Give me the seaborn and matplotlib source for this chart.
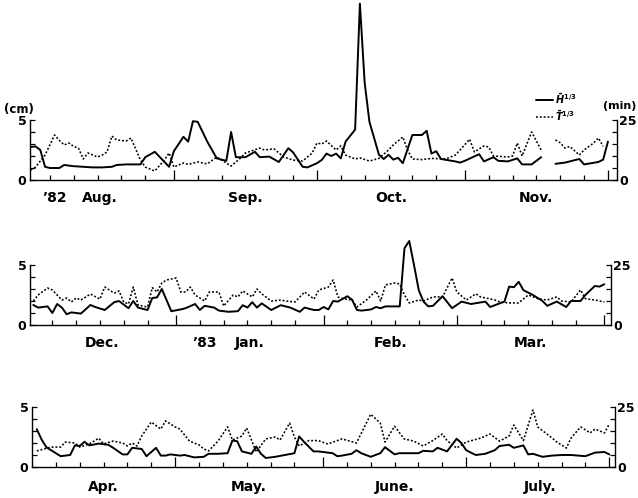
import numpy as np
import pandas as pd
import matplotlib
matplotlib.use("Agg")
import matplotlib.pyplot as plt
from matplotlib.lines import Line2D
import seaborn as sns

nan = np.nan

# ---------------- Aug.-Nov. 1982 (day 0 = 1 Aug) ----------------
h1_day = [1, 2, 3, 4, 5, 7, 8, 10, 12, 14, 16, 18, 19, 21, 24, 25, 27, 30, 31, 33,
          34, 35, 36, 38, 40, 42, 43, 44, 46, 48, 49, 51, 53, 55, 56, 58, 59, 61, 62, 63,
          64, 65, 66, 67, 69, 70, 71, 72, 74, 75, 76, 77, 78, 79, 81, 83, 84, 85, 86, 87,
          90, 91, 92, 95, 96, 98, 99, 101, 103, 104, 106, 108, 109, 111, 113, 116, 117, 120, 121, 122]
h1_cm = [2.75, 2.8, 2.5, 1.1, 1.0, 1.0, 1.25, 1.15, 1.1, 1.05, 1.05, 1.1, 1.25, 1.3, 1.3, 1.9, 2.35, 1.1, 2.4, 3.6,
         3.2, 4.9, 4.85, 3.2, 1.8, 1.6, 4.0, 1.9, 1.9, 2.35, 1.9, 1.95, 1.5, 2.65, 2.3, 1.1, 1.05, 1.4, 1.67, 2.2,
         2.0, 2.2, 1.8, 3.2, 4.2, 14.7, 8.1, 4.85, 2.1, 1.75, 2.1, 1.7, 1.85, 1.4, 3.75, 3.75, 4.1, 2.2, 2.4, 1.75,
         1.55, 1.45, 1.6, 2.15, 1.55, 1.9, 1.6, 1.55, 1.8, 1.3, 1.3, 1.9, nan, 1.35, 1.45, 1.75, 1.3, 1.5, 1.7, 3.2]

t1_day = [1, 2, 4, 6, 7, 8, 9, 10, 11, 12, 13, 15, 16, 17, 18, 19, 21, 22, 24, 25,
          27, 29, 30, 31, 33, 34, 36, 38, 40, 41, 43, 45, 46, 49, 50, 52, 54, 56, 58, 60,
          61, 62, 63, 65, 66, 67, 69, 70, 72, 74, 76, 77, 79, 80, 81, 83, 85, 88, 90, 91,
          93, 94, 96, 97, 98, 101, 102, 103, 104, 106, 108, 109, 111, 112, 113, 114, 116, 117, 119, 120, 121]
t1_min = [4.2, 5.4, 10.4, 18.75, 16.5, 14.6, 15.4, 14.0, 13.3, 8.75, 11.25, 9.6, 10.4, 11.7, 18.3, 16.7, 16.25, 17.5, 8.3, 5.4,
          3.75, 8.3, 11.25, 5.4, 7.1, 6.5, 7.5, 6.7, 9.6, 8.3, 5.8, 9.2, 11.25, 13.3, 12.5, 13.0, 9.6, 8.3, 7.9, 11.25,
          15.4, 15.0, 16.25, 12.5, 14.2, 10.4, 8.75, 9.2, 7.9, 9.0, 12.5, 14.6, 17.9, 12.5, 8.75, 8.5, 9.0, 8.75, 10.4, 12.5,
          17.0, 11.7, 14.2, 13.75, 10.0, 9.6, 10.0, 15.4, 10.0, 20.0, 12.5, nan, 16.7, 15.5, 13.3, 14.0, 10.4, 12.5, 15.4, 17.5, 14.0]

# ---------------- Dec. 1982 - Mar. 1983 (day 0 = 1 Dec) ----------------
h2_day = [1, 2, 4, 5, 6, 7, 8, 9, 11, 13, 14, 16, 18, 19, 21, 22, 23, 25, 26, 27,
          28, 30, 32, 33, 35, 36, 37, 39, 40, 42, 44, 45, 46, 47, 48, 49, 51, 53, 55, 57,
          58, 60, 61, 62, 63, 64, 65, 67, 68, 69, 70, 72, 73, 74, 75, 78, 79, 80, 81, 82,
          83, 84, 85, 87, 89, 91, 93, 96, 97, 100, 101, 102, 103, 104, 106, 108, 109, 111, 113, 114,
          116, 117, 119, 120, 121]
h2_cm = [1.67, 1.45, 1.55, 1.0, 1.75, 1.45, 0.9, 1.05, 0.95, 1.67, 1.5, 1.25, 1.9, 2.0, 1.4, 2.0, 1.45, 1.25, 2.25, 2.3,
         3.0, 1.15, 1.3, 1.4, 1.75, 1.25, 1.6, 1.45, 1.2, 1.1, 1.15, 1.65, 1.45, 1.9, 1.45, 1.8, 1.25, 1.65, 1.45, 1.1,
         1.45, 1.25, 1.25, 1.5, 1.3, 2.0, 1.95, 2.4, 2.1, 1.25, 1.2, 1.3, 1.5, 1.4, 1.55, 1.55, 6.4, 7.0, 5.0, 2.9,
         1.95, 1.55, 1.6, 2.4, 1.4, 1.95, 1.75, 1.95, 1.5, 1.95, 3.2, 3.15, 3.6, 2.9, 2.5, 2.0, 1.6, 1.95, 1.5, 2.0,
         2.0, 2.5, 3.25, 3.2, 3.4]

t2_day = [1, 2, 4, 5, 7, 8, 9, 10, 11, 13, 15, 16, 18, 19, 20, 21, 22, 23, 25, 26,
          27, 28, 29, 31, 32, 33, 34, 35, 37, 38, 40, 41, 43, 44, 45, 47, 48, 49, 51, 53,
          54, 56, 58, 60, 61, 63, 64, 65, 66, 68, 69, 71, 73, 74, 75, 77, 78, 79, 80, 82,
          83, 85, 87, 89, 90, 92, 94, 95, 98, 99, 101, 103, 105, 107, 109, 111, 112, 114, 116, 117,
          119, 120, 121]
t2_min = [10.0, 12.5, 15.4, 14.6, 10.4, 11.25, 9.6, 11.25, 10.4, 12.9, 10.8, 15.8, 13.3, 14.2, 9.6, 8.75, 15.8, 8.3, 7.5, 15.6,
          13.75, 17.5, 18.75, 19.6, 13.75, 13.75, 15.8, 12.5, 10.0, 13.75, 13.75, 7.9, 12.5, 11.7, 14.2, 11.7, 15.0, 13.0, 10.0, 10.4,
          10.0, 9.6, 13.75, 10.8, 14.6, 15.8, 18.75, 11.7, 11.0, 10.4, 7.5, 10.4, 14.2, 10.0, 16.7, 17.5, 17.1, 12.5, 9.2, 10.4,
          10.0, 11.7, 11.7, 19.6, 13.75, 10.4, 13.0, 11.7, 10.4, 9.6, 9.2, 9.2, 12.5, 11.0, 10.4, 11.7, 10.0, 9.6, 14.6, 11.0,
          10.4, 10.0, 9.6]

# ---------------- Apr.-Jul. 1983 (day 0 = 1 Apr) ----------------
h3_day = [1, 2, 3, 6, 8, 9, 10, 11, 12, 14, 16, 17, 19, 20, 21, 23, 24, 26, 27, 28,
          29, 31, 32, 34, 36, 37, 39, 41, 42, 43, 44, 46, 47, 48, 49, 51, 53, 55, 56, 57,
          59, 60, 63, 64, 65, 67, 68, 69, 71, 73, 74, 76, 77, 79, 81, 82, 84, 85, 87, 89,
          90, 91, 93, 95, 97, 98, 100, 101, 103, 104, 105, 107, 109, 111, 113, 116, 118, 120, 121]
h3_cm = [3.15, 2.3, 1.65, 0.9, 1.0, 1.8, 1.75, 2.1, 1.8, 1.95, 1.85, 1.6, 1.05, 1.05, 1.6, 1.5, 0.9, 1.6, 0.95, 0.95,
         1.05, 0.95, 1.0, 0.8, 0.85, 1.1, 1.1, 1.15, 2.2, 2.15, 1.3, 1.1, 1.7, 1.1, 0.75, 0.85, 1.0, 1.15, 2.55, 2.1,
         1.3, 1.3, 1.15, 0.9, 0.95, 1.1, 1.4, 1.15, 0.85, 1.15, 1.65, 1.05, 1.15, 1.15, 1.15, 1.35, 1.3, 1.6, 1.3, 2.35,
         2.0, 1.4, 1.0, 1.1, 1.4, 1.75, 1.85, 1.6, 1.8, 1.05, 1.1, 0.85, 0.95, 1.0, 1.0, 0.9, 1.2, 1.25, 1.05]

t3_day = [1, 4, 6, 7, 9, 10, 12, 14, 15, 17, 19, 20, 21, 22, 23, 25, 27, 28, 30, 31,
          33, 35, 36, 37, 39, 41, 42, 44, 45, 46, 47, 49, 51, 52, 54, 55, 56, 58, 60, 62,
          65, 68, 71, 73, 74, 76, 78, 80, 82, 84, 86, 87, 89, 91, 94, 96, 98, 100, 101, 103,
          105, 106, 109, 110, 112, 113, 115, 117, 118, 120, 121]
t3_min = [6.7, 8.3, 8.3, 10.4, 10.0, 8.3, 9.6, 12.0, 9.6, 10.8, 10.0, 8.75, 10.0, 8.75, 12.9, 18.75, 15.8, 19.2, 16.7, 15.8,
          10.8, 9.2, 7.5, 6.7, 10.8, 16.7, 11.25, 12.9, 16.25, 11.25, 6.25, 11.7, 12.5, 11.25, 18.3, 12.5, 8.75, 11.0, 11.0, 9.6,
          11.7, 10.0, 22.0, 18.3, 10.4, 17.0, 11.7, 10.8, 8.75, 11.0, 13.75, 11.0, 7.9, 10.4, 12.0, 13.75, 10.8, 12.9, 17.5, 11.0,
          23.75, 16.7, 12.1, 10.4, 7.9, 12.1, 16.7, 14.2, 15.8, 14.2, 17.9]

months1, lengths1 = ["Aug.", "Sep.", "Oct.", "Nov."], [31, 30, 31, 30]
months2, lengths2 = ["Dec.", "Jan.", "Feb.", "Mar."], [31, 31, 28, 31]
months3, lengths3 = ["Apr.", "May.", "June.", "July."], [30, 31, 30, 31]

for d, v in [(h1_day, h1_cm), (t1_day, t1_min), (h2_day, h2_cm),
             (t2_day, t2_min), (h3_day, h3_cm), (t3_day, t3_min)]:
    assert len(d) == len(v)

sns.set_style("ticks", {"axes.edgecolor": "black", "xtick.color": "black",
                        "ytick.color": "black", "text.color": "black"})
plt.rcParams["font.family"] = ["DejaVu Sans"]
plt.rcParams["font.weight"] = "bold"
plt.rcParams["mathtext.fontset"] = "dejavusans"

W, H = 638, 498
fig = plt.figure(figsize=(W / 100, H / 100), dpi=100)
fig.patch.set_facecolor("white")

DOT = (0, (1.2, 1.2))


def frame(df_day, df_val):
    df = pd.DataFrame({"day": df_day, "val": df_val})
    df["seg"] = df["val"].isna().cumsum()
    return df.dropna()


def panel(x0, x1, base, ytop, xlim, h_day, h_val, t_day, t_val,
          months, lengths, end_tick, year=None, label_off=18):
    ax = fig.add_axes([x0 / W, 1 - base / H, (x1 - x0) / W, ytop * 12 / H])
    ax2 = ax.twinx()

    sns.lineplot(data=frame(h_day, h_val), x="day", y="val", units="seg",
                 estimator=None, ax=ax, color="black", lw=1.4, legend=False)
    sns.lineplot(data=frame(t_day, t_val), x="day", y="val", units="seg",
                 estimator=None, ax=ax2, color="black", lw=1.15,
                 linestyle=DOT, legend=False)

    for a in (ax, ax2):
        a.set_xlabel("")
        a.set_ylabel("")
        a.set_xlim(*xlim)
    ax.set_ylim(0, ytop)
    ax2.set_ylim(0, ytop * 5)

    ax.spines["top"].set_visible(False)
    ax.spines["right"].set_visible(False)
    ax.spines["left"].set_bounds(0, 5)
    for s in ("top", "left", "bottom"):
        ax2.spines[s].set_visible(False)
    ax2.spines["right"].set_bounds(0, 25)
    for a in (ax, ax2):
        for s in a.spines.values():
            s.set_linewidth(1.0)

    ax.set_yticks(range(6))
    ax.set_yticklabels(["0", "", "", "", "", "5"])
    ax2.set_yticks(range(0, 26, 5))
    ax2.set_yticklabels(["0", "", "", "", "", "25"])
    ax.tick_params(axis="y", direction="in", length=3.5, width=0.9, pad=2.5,
                   labelsize=9, left=True)
    ax2.tick_params(axis="y", direction="in", length=3.5, width=0.9, pad=1.5,
                    labelsize=9, right=True)

    starts = np.cumsum([0] + lengths[:-1])
    major = list(starts[1:]) + [end_tick]
    minor = [s + k for s in starts for k in (5, 10, 15, 20, 25)]
    ax.set_xticks(major)
    ax.set_xticks(minor, minor=True)
    ax.set_xticklabels([])
    ax.tick_params(axis="x", which="major", direction="in", length=7, width=0.9, bottom=True)
    ax.tick_params(axis="x", which="minor", direction="in", length=3.5, width=0.9, bottom=True)

    for i, (name, s, n) in enumerate(zip(months, starts, lengths)):
        mid = s + n / 2
        ax.annotate(name, xy=(mid, 0), xycoords=("data", "axes fraction"),
                    xytext=(0, -label_off), textcoords="offset pixels",
                    ha="center", va="center", fontsize=10, fontweight="bold")
        if year is not None and year[0] == i:
            ax.annotate(year[1], xy=(mid - 9.5, 0), xycoords=("data", "axes fraction"),
                        xytext=(0, -label_off), textcoords="offset pixels",
                        ha="center", va="center", fontsize=10, fontweight="bold")
    return ax, ax2


panel(30, 617, 180, 15, (0.84, 123.9), h1_day, h1_cm, t1_day, t1_min,
      months1, lengths1, 122, year=(0, "\u201982"), label_off=18)
panel(30, 611, 325, 8, (0.3, 122.4), h2_day, h2_cm, t2_day, t2_min,
      months2, lengths2, 121, year=(1, "\u201983"), label_off=18)
panel(32, 615, 467, 5.5, (0, 122.2), h3_day, h3_cm, t3_day, t3_min,
      months3, lengths3, 121, label_off=20)

fig.text(19 / W, 1 - 110 / H, "(cm)", ha="center", va="center", fontsize=8.5, fontweight="bold")
fig.text(636 / W, 1 - 106 / H, "(min)", ha="right", va="center", fontsize=8, fontweight="bold")

handles = [Line2D([], [], color="black", lw=1.4),
           Line2D([], [], color="black", lw=1.15, linestyle=DOT)]
fig.legend(handles, [r"$\bar{H}^{1/3}$", r"$\bar{T}^{1/3}$"],
           loc="upper left", bbox_to_anchor=(536 / W, 1 - 91 / H),
           frameon=False, fontsize=7, handlelength=1.7, handletextpad=0.3,
           labelspacing=0.25, borderpad=0, borderaxespad=0)

fig.savefig("out.png", dpi=100, facecolor="white")
